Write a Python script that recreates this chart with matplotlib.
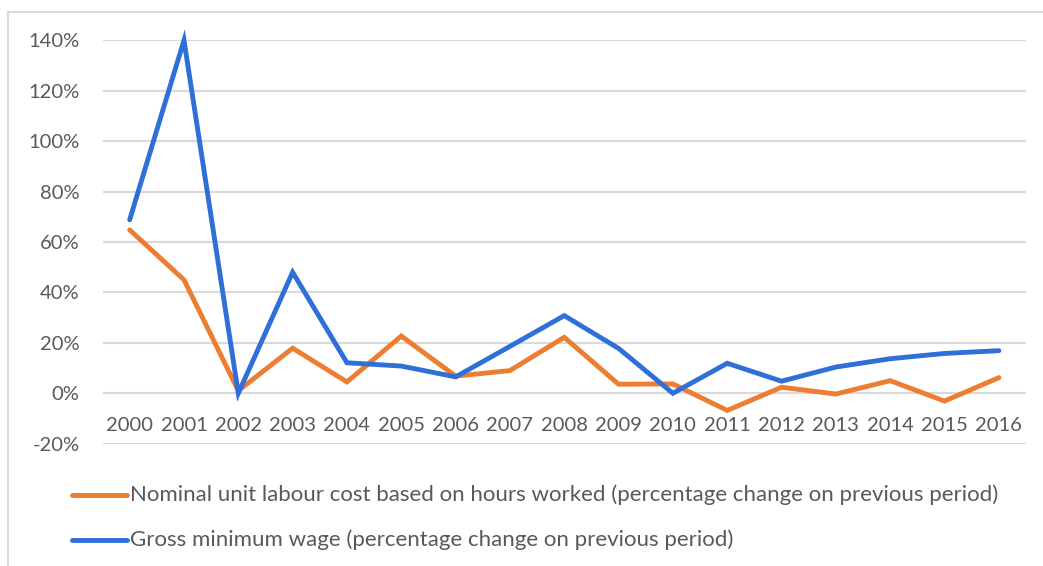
import matplotlib
matplotlib.use("Agg")
import matplotlib.pyplot as plt
from matplotlib.lines import Line2D
from matplotlib.ticker import FuncFormatter

years = [str(y) for y in range(2000, 2017)]

labour_cost = [64.8, 45.0, 1.0, 17.9, 4.5, 22.7, 6.8, 9.0, 22.2, 3.6, 3.7,
               -6.8, 2.4, -0.3, 5.0, -3.1, 6.2]
min_wage = [68.8, 140.0, 0.0, 48.0, 12.1, 10.8, 6.5, 18.6, 30.8, 17.8, 0.0,
            11.9, 4.8, 10.4, 13.7, 15.8, 16.9]

series_labels = [
    "Nominal unit labour cost based on hours worked (percentage change on previous period)",
    "Gross minimum wage (percentage change on previous period)",
]
series_colors = ["#ED7D31", "#2E70D8"]

W, H = 1043, 566
plt.rcParams["font.family"] = ["Lato", "DejaVu Sans"]
text_color = "#595959"
grid_color = "#D9D9D9"

fig = plt.figure(figsize=(W / 100, H / 100), dpi=100)
ax = fig.add_axes([102.5 / W, 1 - 443.7 / H, (1026 - 102.5) / W, (443.7 - 40.3) / H])

x = list(range(len(years)))
for vals, col in zip([labour_cost, min_wage], series_colors):
    ax.plot(x, vals, color=col, lw=3.5, solid_capstyle="round",
            solid_joinstyle="miter", clip_on=False, zorder=3)

ax.set_xlim(-0.5, len(years) - 0.5)
ax.set_ylim(-20, 140)
ax.set_yticks(range(-20, 141, 20))
ax.yaxis.set_major_formatter(FuncFormatter(lambda v, p: f"{v:.0f}%"))
ax.grid(axis="y", color=grid_color, lw=1.5)
ax.set_axisbelow(True)

for s in ax.spines.values():
    s.set_visible(False)
ax.spines["bottom"].set_position(("data", 0))
ax.set_xticks(x)
ax.set_xticklabels(years)
ax.tick_params(axis="x", length=0, pad=17, labelsize=14.5, colors=text_color)
ax.tick_params(axis="y", length=0, pad=16.5, labelsize=14.5, colors=text_color)

# legend drawn below the plot
rows_y = [495, 540]
for lab, col, yy in zip(series_labels, series_colors, rows_y):
    fy = 1 - yy / H
    fig.add_artist(Line2D([72 / W, 127 / W], [fy, fy], color=col, lw=3.5,
                          solid_capstyle="round", transform=fig.transFigure))
    fig.text(130 / W, fy, lab, fontsize=16, color=text_color, va="center", ha="left")

# chart frame
fig.add_artist(Line2D([8 / W, 1.0], [1 - 12 / H, 1 - 12 / H], color=grid_color,
                      lw=1.5, transform=fig.transFigure))
fig.add_artist(Line2D([8 / W, 8 / W], [1 - 12 / H, 0], color=grid_color,
                      lw=1.5, transform=fig.transFigure))

fig.savefig("out.png", dpi=100, facecolor="white")
